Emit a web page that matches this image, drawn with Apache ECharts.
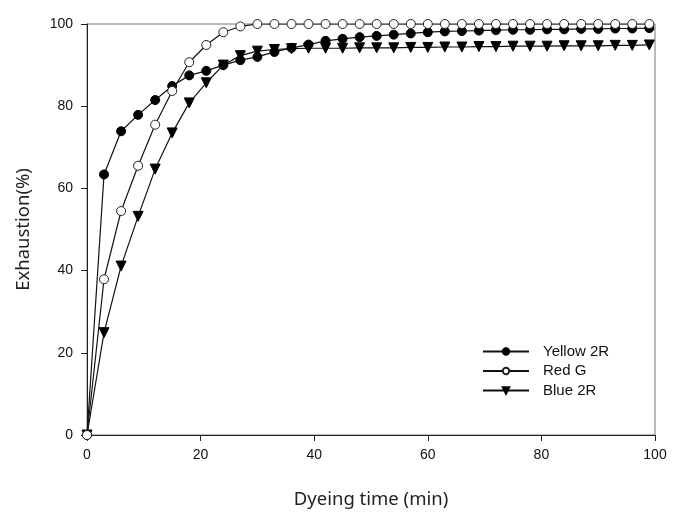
<!DOCTYPE html>
<html><head><meta charset="utf-8">
<script src="https://cdn.jsdelivr.net/npm/echarts@6/dist/echarts.min.js"></script>
<style>html,body{margin:0;padding:0;background:#fff}#c{width:685px;height:514px}</style>
</head><body><div id="c"></div>
<script>
const times = [0,3,6,9,12,15,18,21,24,27,30,33,36,39,42,45,48,51,54,57,60,63,66,69,72,75,78,81,84,87,90,93,96,99];
const yellow2R = [0,63.4,73.9,77.9,81.5,84.9,87.5,88.6,90.0,91.2,92.0,93.2,94.2,95.0,95.9,96.4,96.8,97.1,97.4,97.7,98.0,98.2,98.3,98.4,98.5,98.6,98.6,98.7,98.7,98.8,98.8,98.9,98.9,99.0];
const redG = [0,37.9,54.5,65.5,75.5,83.7,90.7,94.9,98.0,99.4,100,100,100,100,100,100,100,100,100,100,100,100,100,100,100,100,100,100,100,100,100,100,100,100];
const blue2R = [0,24.9,41.1,53.2,64.7,73.5,80.8,85.7,90.0,92.3,93.4,93.8,94.0,94.1,94.1,94.1,94.2,94.2,94.2,94.3,94.3,94.4,94.4,94.5,94.5,94.6,94.6,94.6,94.7,94.7,94.7,94.8,94.8,94.9];
const seriesNames = ['Yellow 2R','Red G','Blue 2R'];
const xTicks = [0,20,40,60,80,100];

const chart = echarts.init(document.getElementById('c'));
const pair = arr => times.map((t,i)=>[t,arr[i]]);
const tickFont = 'Liberation Sans';
const nameFont = 'Noto Sans';
const lineStyle = {color:'#111', width:1.2};
chart.setOption({
  animation:false,
  backgroundColor:'#fff',
  grid:{left:87,right:30,top:24,bottom:78,show:true,borderColor:'#777',borderWidth:1},
  xAxis:{type:'value',min:xTicks[0],max:xTicks[xTicks.length-1],interval:20,
    name:'Dyeing time (min)',nameLocation:'middle',nameGap:55,
    nameTextStyle:{fontFamily:nameFont,fontSize:18.5,color:'#222'},
    axisLine:{lineStyle:{color:'#222',width:1}},
    axisTick:{show:true,length:6,lineStyle:{color:'#222'}},
    axisLabel:{fontFamily:tickFont,fontSize:14,color:'#111',margin:13},
    splitLine:{show:false}},
  yAxis:{type:'value',min:0,max:100,interval:20,
    name:'Exhaustion(%)',nameLocation:'middle',nameGap:54,
    nameTextStyle:{fontFamily:nameFont,fontSize:18.5,color:'#222'},
    axisLine:{show:true,lineStyle:{color:'#222',width:1}},
    axisTick:{show:true,length:6,lineStyle:{color:'#222'}},
    axisLabel:{fontFamily:tickFont,fontSize:14,color:'#111',margin:14},
    splitLine:{show:false}},
  legend:{orient:'vertical',left:482,top:344,padding:0,itemWidth:46,itemHeight:8,itemGap:4.5,
    textStyle:{fontFamily:tickFont,fontSize:15,lineHeight:15,color:'#111',padding:[0,0,0,9]},
    data:seriesNames},
  series:[
    {name:seriesNames[0],type:'line',data:pair(yellow2R),symbol:'circle',symbolSize:9,
      lineStyle:lineStyle,itemStyle:{color:'#000',borderColor:'#000',borderWidth:1},z:3},
    {name:seriesNames[1],type:'line',data:pair(redG),symbol:'circle',symbolSize:9,
      lineStyle:lineStyle,itemStyle:{color:'#fff',borderColor:'#222',borderWidth:1},z:4},
    {name:seriesNames[2],type:'line',data:pair(blue2R),symbol:'triangle',symbolRotate:180,symbolSize:10,
      lineStyle:lineStyle,itemStyle:{color:'#000',borderColor:'#000',borderWidth:1},z:2}
  ]
});
</script></body></html>
